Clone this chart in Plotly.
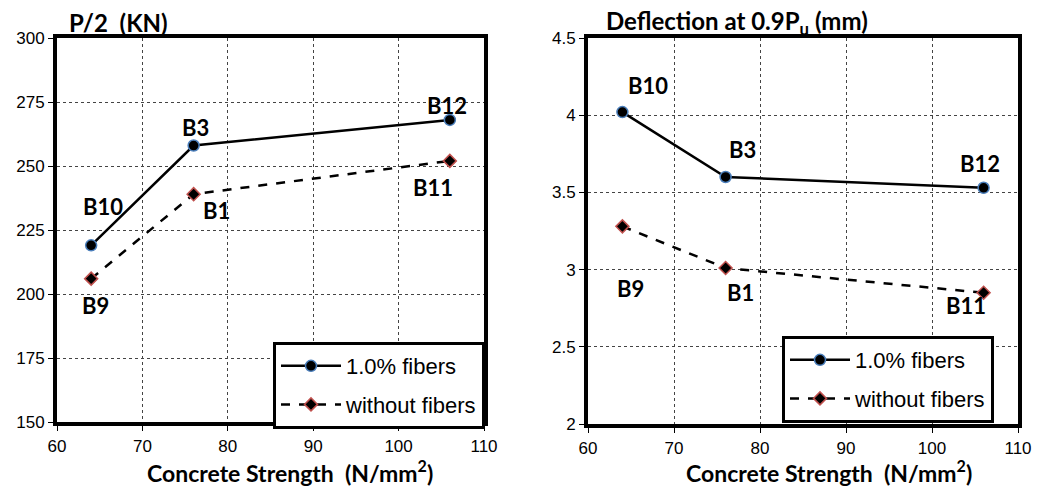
import plotly.graph_objects as go

# ---- data ----
strength = [64, 76, 106]
load_fibers = [219, 258, 268]
load_plain = [206, 239, 252]
defl_fibers = [4.02, 3.60, 3.53]
defl_plain = [3.28, 3.01, 2.85]

load_fiber_labels = ["B10", "B3", "B12"]
load_plain_labels = ["B9", "B1", "B11"]
load_fiber_label_pos = [(65.4, 234), (76.2, 265), (105.7, 273.6)]
load_plain_label_pos = [(64.5, 195.4), (78.7, 232.5), (104.0, 241.6)]

defl_fiber_labels = ["B10", "B3", "B12"]
defl_plain_labels = ["B9", "B1", "B11"]
defl_fiber_label_pos = [(67.0, 4.19), (78.0, 3.78), (105.6, 3.69)]
defl_plain_label_pos = [(64.9, 2.88), (77.7, 2.85), (104.0, 2.77)]

x_ticks = [60, 70, 80, 90, 100, 110]
load_ticks = [150, 175, 200, 225, 250, 275, 300]
defl_ticks = [2, 2.5, 3, 3.5, 4, 4.5]

x_title = "<b>Concrete Strength  (N/mm<sup>2</sup>)</b>"
load_title = "<b>P/2  (KN)</b>"
defl_title = "<b>Deflection at 0.9P<sub>u</sub> (mm)</b>"

W, H = 1037, 487


def px_x(p):
    return p / W


def px_y(p):
    return 1 - p / H


TICKFONT = dict(family="Liberation Sans, Arial", size=17, color="black")
LABELFONT = dict(family="Lato, Open Sans", size=22, color="black")
TITLEFONT = dict(family="Lato, Open Sans", size=24, color="black")
XTITLEFONT = dict(family="Lato, Open Sans", size=23, color="black")
LEGFONT = dict(family="Liberation Sans, Arial", size=22, color="black")

fig = go.Figure()


def add_series(x, y, xa, ya, legend):
    fig.add_trace(go.Scatter(
        x=x, y=y[0], xaxis=xa, yaxis=ya, mode="lines+markers",
        name="1.0% fibers", legend=legend, legendgroup=legend + "a",
        line=dict(color="black", width=2.5),
        marker=dict(symbol="circle", size=11, color="black",
                    line=dict(color="#4a7ebb", width=1.5))))
    fig.add_trace(go.Scatter(
        x=x, y=y[1], xaxis=xa, yaxis=ya, mode="lines+markers",
        name="without fibers", legend=legend, legendgroup=legend + "b",
        line=dict(color="black", width=2.5, dash="dash"),
        marker=dict(symbol="diamond", size=10, color="black",
                    line=dict(color="#c0504d", width=1.5))))


add_series(strength, (load_fibers, load_plain), "x", "y", "legend")
add_series(strength, (defl_fibers, defl_plain), "x2", "y2", "legend2")

annotations = []
for labels, pos, xr, yr in [
    (load_fiber_labels, load_fiber_label_pos, "x", "y"),
    (load_plain_labels, load_plain_label_pos, "x", "y"),
    (defl_fiber_labels, defl_fiber_label_pos, "x2", "y2"),
    (defl_plain_labels, defl_plain_label_pos, "x2", "y2"),
]:
    for t, (px, py) in zip(labels, pos):
        annotations.append(dict(x=px, y=py, xref=xr, yref=yr, text="<b>%s</b>" % t,
                                showarrow=False, font=LABELFONT,
                                xanchor="center", yanchor="middle"))

annotations.append(dict(x=px_x(67), y=px_y(22), xref="paper", yref="paper",
                        text=load_title, showarrow=False, font=TITLEFONT,
                        xanchor="left", yanchor="middle"))
annotations.append(dict(x=px_x(604), y=px_y(22), xref="paper", yref="paper",
                        text=defl_title, showarrow=False,
                        font=TITLEFONT, xanchor="left", yanchor="middle"))
annotations.append(dict(x=px_x(290), y=px_y(471), xref="paper", yref="paper",
                        text=x_title, showarrow=False, font=XTITLEFONT,
                        xanchor="center", yanchor="middle"))
annotations.append(dict(x=px_x(829), y=px_y(471), xref="paper", yref="paper",
                        text=x_title, showarrow=False, font=XTITLEFONT,
                        xanchor="center", yanchor="middle"))


def xaxis(domain, anchor, standoff):
    return dict(domain=domain, anchor=anchor, range=[60, 110], tickvals=x_ticks,
                automargin=False, ticklabeloverflow="allow",
                ticklabelstandoff=standoff,
                showline=True, linecolor="black", linewidth=4, mirror=True,
                ticks="outside", ticklen=5, tickcolor="black", tickwidth=1,
                showgrid=True, gridcolor="#444", griddash="dot", gridwidth=1,
                zeroline=False, tickfont=TICKFONT)


def yaxis(domain, anchor, rng, ticks):
    return dict(domain=domain, anchor=anchor, range=rng, tickvals=ticks,
                automargin=False,
                showline=True, linecolor="black", linewidth=4, mirror=True,
                ticks="outside", ticklen=5, tickcolor="black", tickwidth=1,
                showgrid=True, gridcolor="#444", griddash="dot", gridwidth=1,
                zeroline=False, tickfont=TICKFONT)


legend_common = dict(bgcolor="white", bordercolor="black", borderwidth=3,
                     font=LEGFONT, itemwidth=60, tracegroupgap=7,
                     traceorder="grouped",
                     xanchor="left", yanchor="top")

fig.update_layout(
    width=W, height=H,
    margin=dict(l=0, r=0, t=0, b=0),
    paper_bgcolor="white", plot_bgcolor="white",
    xaxis=xaxis([px_x(57), px_x(484)], "y", 1),
    yaxis=yaxis([px_y(422), px_y(38)], "x", [150, 300], load_ticks),
    xaxis2=xaxis([px_x(588), px_x(1018)], "y2", 1),
    yaxis2=yaxis([px_y(424), px_y(38)], "x2", [2, 4.5], defl_ticks),
    legend=dict(x=px_x(273), y=px_y(342), **legend_common),
    legend2=dict(x=px_x(782), y=px_y(336), **legend_common),
    annotations=annotations,
    showlegend=True,
)

# remove the browser's default 8px page margin so the figure fills the window exactly
fig.write_html("out.html", config={"displayModeBar": False},
               post_script="document.body.style.margin='0';")
